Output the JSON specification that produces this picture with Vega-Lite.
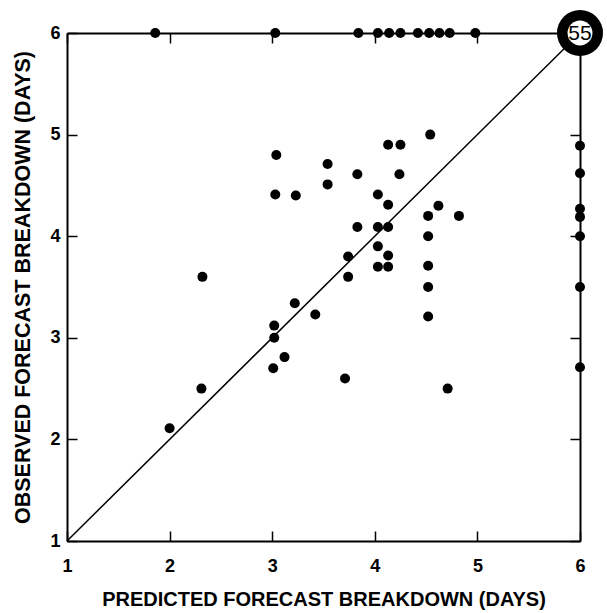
{
  "$schema": "https://vega.github.io/schema/vega-lite/v6.json",
  "width": 513,
  "height": 508,
  "autosize": {"type": "none"},
  "padding": {"left": 67, "top": 33, "right": 27, "bottom": 72},
  "background": "white",
  "config": {
    "view": {"stroke": null},
    "font": "Liberation Sans",
    "axis": {
      "domainColor": "black", "domainWidth": 2, "tickColor": "black", "tickWidth": 1.5,
      "tickSize": -10, "grid": false, "labelColor": "black", "titleColor": "black", "labelFlush": false,
      "labelFont": "Liberation Sans", "labelFontWeight": "bold", "labelFontSize": 18,
      "titleFont": "Liberation Sans", "titleFontWeight": "bold", "titleFontSize": 20
    }
  },
  "resolve": {"axis": {"x": "independent", "y": "independent"}},
  "layer": [
    {
      "data": {"values": [{"p": 1, "o": 1}, {"p": 6, "o": 6}]},
      "mark": {"type": "line", "color": "black", "strokeWidth": 1.5},
      "encoding": {
        "x": {"field": "p", "type": "quantitative", "scale": {"domain": [1, 6], "nice": false, "zero": false},
              "axis": {"orient": "bottom", "values": [1, 2, 3, 4, 5, 6], "labelPadding": 26, "title": "PREDICTED FORECAST BREAKDOWN (DAYS)", "titlePadding": 14}},
        "y": {"field": "o", "type": "quantitative", "scale": {"domain": [1, 6], "nice": false, "zero": false},
              "axis": {"orient": "left", "values": [1, 2, 3, 4, 5, 6], "labelPadding": 17, "title": "OBSERVED FORECAST BREAKDOWN (DAYS)", "titleFontSize": 21.5, "titlePadding": 15}}
      }
    },
    {
      "data": {"values": [
        {"p": 1.86, "o": 6}, {"p": 3.03, "o": 6}, {"p": 3.84, "o": 6}, {"p": 4.03, "o": 6}, {"p": 4.14, "o": 6},
        {"p": 4.25, "o": 6}, {"p": 4.42, "o": 6}, {"p": 4.53, "o": 6}, {"p": 4.63, "o": 6}, {"p": 4.73, "o": 6}, {"p": 4.98, "o": 6},
        {"p": 6, "o": 4.89}, {"p": 6, "o": 4.62}, {"p": 6, "o": 4.27}, {"p": 6, "o": 4.19}, {"p": 6, "o": 4.0}, {"p": 6, "o": 3.5}, {"p": 6, "o": 2.71},
        {"p": 4.54, "o": 5.0}, {"p": 4.13, "o": 4.9}, {"p": 4.25, "o": 4.9}, {"p": 3.54, "o": 4.71}, {"p": 3.54, "o": 4.51},
        {"p": 3.83, "o": 4.61}, {"p": 4.24, "o": 4.61}, {"p": 3.23, "o": 4.4}, {"p": 4.03, "o": 4.41}, {"p": 4.13, "o": 4.31},
        {"p": 4.62, "o": 4.3}, {"p": 4.52, "o": 4.2}, {"p": 4.82, "o": 4.2}, {"p": 3.83, "o": 4.09}, {"p": 4.03, "o": 4.09},
        {"p": 4.13, "o": 4.09}, {"p": 4.52, "o": 4.0}, {"p": 4.03, "o": 3.9}, {"p": 4.13, "o": 3.81}, {"p": 3.74, "o": 3.8},
        {"p": 4.03, "o": 3.7}, {"p": 4.13, "o": 3.7}, {"p": 4.52, "o": 3.71}, {"p": 3.74, "o": 3.6}, {"p": 4.52, "o": 3.5},
        {"p": 3.04, "o": 4.8}, {"p": 3.03, "o": 4.41}, {"p": 2.32, "o": 3.6},
        {"p": 3.22, "o": 3.34}, {"p": 3.42, "o": 3.23}, {"p": 3.02, "o": 3.12}, {"p": 3.02, "o": 3.0}, {"p": 3.12, "o": 2.81},
        {"p": 3.01, "o": 2.7}, {"p": 2.31, "o": 2.5}, {"p": 2.0, "o": 2.11},
        {"p": 4.52, "o": 3.21}, {"p": 3.71, "o": 2.6}, {"p": 4.71, "o": 2.5}
      ]},
      "mark": {"type": "circle", "color": "black", "opacity": 1, "size": 100, "clip": false},
      "encoding": {
        "x": {"field": "p", "type": "quantitative", "scale": {"domain": [1, 6], "nice": false, "zero": false},
              "axis": {"orient": "top", "values": [1, 2, 3, 4, 5, 6], "labels": false, "title": null}},
        "y": {"field": "o", "type": "quantitative", "scale": {"domain": [1, 6], "nice": false, "zero": false},
              "axis": {"orient": "right", "values": [1, 2, 3, 4, 5, 6], "labels": false, "title": null}}
      }
    },
    {
      "data": {"values": [{"p": 6, "o": 6, "n": "55"}]},
      "layer": [
        {"mark": {"type": "circle", "color": "black", "opacity": 1, "size": 2124, "clip": false},
         "encoding": {"x": {"field": "p", "type": "quantitative", "axis": null}, "y": {"field": "o", "type": "quantitative", "axis": null}}},
        {"mark": {"type": "circle", "color": "white", "opacity": 1, "size": 620, "clip": false},
         "encoding": {"x": {"field": "p", "type": "quantitative", "axis": null}, "y": {"field": "o", "type": "quantitative", "axis": null}}},
        {"mark": {"type": "text", "color": "black", "fontSize": 21, "font": "Liberation Sans", "align": "center", "baseline": "middle", "dy": 1, "clip": false},
         "encoding": {"x": {"field": "p", "type": "quantitative", "axis": null}, "y": {"field": "o", "type": "quantitative", "axis": null}, "text": {"field": "n"}}}
      ]
    }
  ]
}
